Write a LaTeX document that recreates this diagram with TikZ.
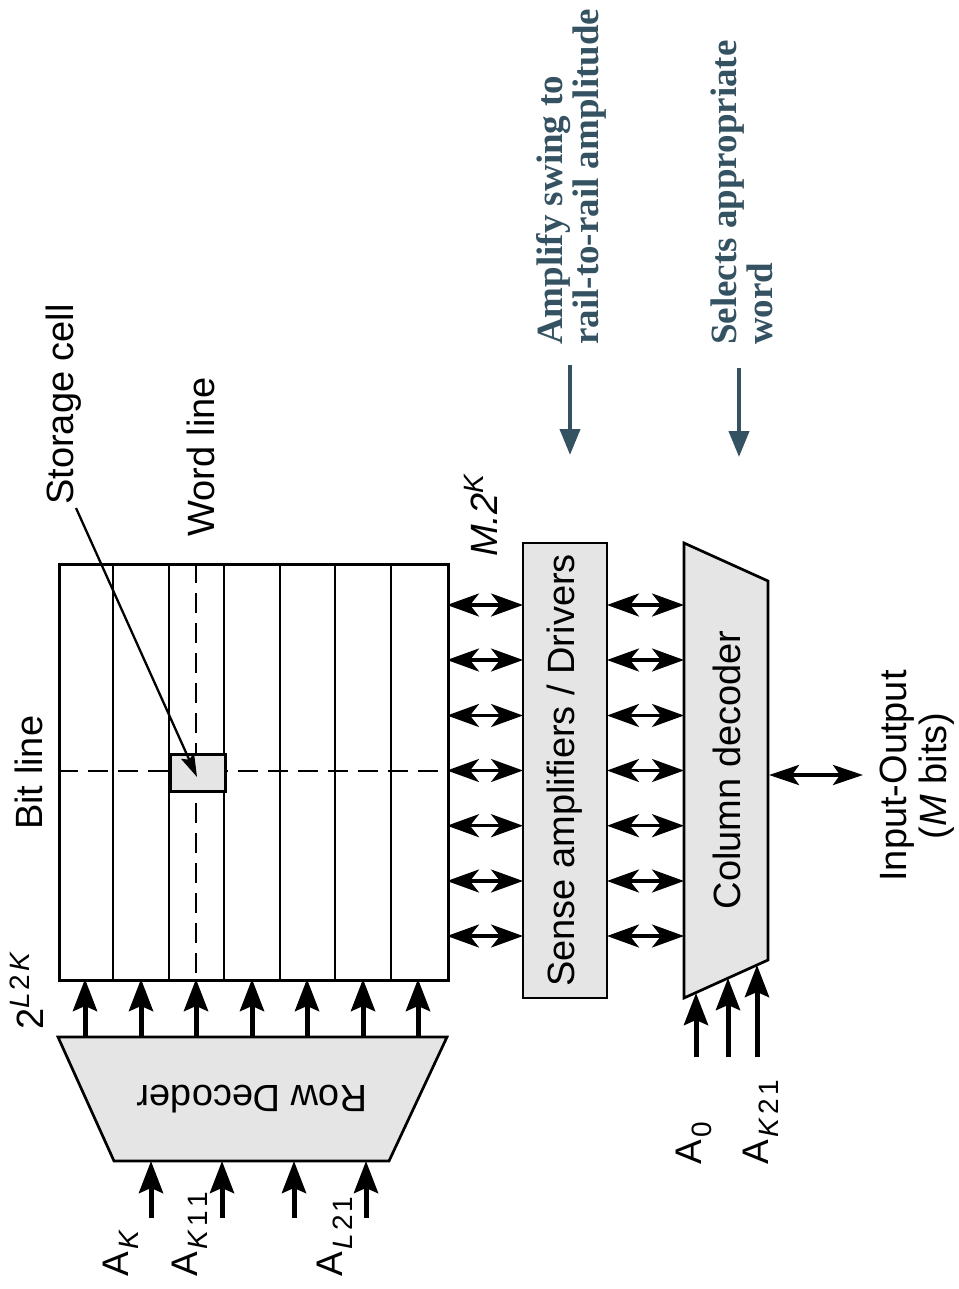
\documentclass[tikz,border=0pt]{standalone}
\usepackage{fontspec}
\setmainfont{Liberation Sans}
\newfontfamily\annfont{Liberation Serif}
\usetikzlibrary{arrows.meta}
\definecolor{anncol}{RGB}{52,82,97}
\definecolor{boxfill}{RGB}{229,229,229}
\newcommand\mysub[1]{\raisebox{-10pt}{\fontsize{28}{28}\selectfont #1}}
\newcommand\mysup[1]{\raisebox{14pt}{\fontsize{28}{28}\selectfont #1}}
\newcommand\gp{\hspace{3pt}}
\begin{document}
\begin{tikzpicture}[x=1pt,y=-1pt,
  wire/.style={line width=2.7pt},
  boxnode/.style={draw, line width=2.7pt, fill=boxfill, inner sep=0pt},
  dbl/.style={line width=3.5pt, {Stealth[length=32pt,width=23pt,inset=9pt]}-{Stealth[length=32pt,width=23pt,inset=9pt]}},
  uparr/.style={line width=5pt, -{Stealth[length=32pt,width=24pt,inset=5pt]}},
  ioarr/.style={line width=4pt, {Stealth[length=30pt,width=20pt,inset=7pt]}-{Stealth[length=30pt,width=20pt,inset=7pt]}},
  annarr/.style={line width=4pt, draw=anncol, -{Triangle[length=26pt,width=20pt]}},
  lbl/.style={font=\fontsize{38}{40}\selectfont, inner sep=0pt},
  rlbl/.style={lbl, rotate=90, anchor=base west},
  albl/.style={rlbl, font=\fontsize{37}{37}\selectfont},
  ann/.style={font=\annfont\bfseries\fontsize{37}{36}\selectfont, text=anncol, inner sep=0pt, rotate=90, align=left, anchor=north west},
]
\useasboundingbox (0,0) rectangle (958,1289);
\fill[white] (0,0) rectangle (958,1289);

% memory array
\node[draw, line width=2.7pt, inner sep=0pt, minimum width=389pt, minimum height=416pt, anchor=north west] (grid) at (58,563) {};
\foreach \x in {113,169,224,280,335,391} \draw[wire] (\x,563) -- (\x,979);
\draw[wire, dash pattern=on 20pt off 10pt] (196,563) -- (196,979);
\draw[wire, dash pattern=on 20pt off 10pt] (58,771) -- (447,771);
\node[boxnode, minimum width=55pt, minimum height=37pt, anchor=north west] (cell) at (169,753) {};

% labels around the array
\node[rlbl] (storage) at (73,505) {Storage cell};
\coordinate (stail) at (76,508);
\coordinate (stip) at (197,777);
\draw[line width=2.3pt, -{Stealth[length=23pt,width=14pt,inset=4pt]}] (stail) -- (stip);
\node[rlbl] (wordline) at (214,537) {Word line};
\node[rlbl] (bitline) at (42,830) {Bit line};
\node[rlbl] (rows) at (43,1030) {2\mysup{\textit{L}\gp2\gp\textit{K}}};
\node[rlbl] (cols) at (497,557) {\textit{M.2}\mysup{\textit{K}}};

% sense amplifiers
\node[boxnode, rotate=90, minimum width=455pt, minimum height=84pt, font=\fontsize{38}{40}\selectfont] (sense) at (565,770.5) {Sense amplifiers / Drivers};

% column decoder
\draw[wire, fill=boxfill] (684,543) -- (768,581) -- (768,960) -- (684,998) -- cycle;
\node[lbl, rotate=90] (coldec) at (727,770) {Column decoder};

% row decoder
\draw[wire, fill=boxfill] (58,1037) -- (447,1037) -- (389,1161) -- (114,1161) -- cycle;
\node[lbl, rotate=180] (rowdec) at (252,1099) {Row Decoder};

% double arrows
\foreach \i/\y in {1/605,2/660,3/715.5,4/770.5,5/825.7,6/881,7/936}{
  \coordinate (ga\i) at (447,\y);
  \coordinate (sa\i) at (523,\y);
  \coordinate (sb\i) at (607,\y);
  \coordinate (cd\i) at (684,\y);
  \draw[dbl] (ga\i) -- (sa\i);
  \draw[dbl] (sb\i) -- (cd\i);
}

% word line drivers
\foreach \i/\x in {1/85,2/141,3/196,4/252,5/307,6/363,7/418}{
  \coordinate (rd\i) at (\x,1037);
  \coordinate (gb\i) at (\x,979);
  \draw[uparr] (rd\i) -- (gb\i);
}

% row address inputs
\foreach \i/\x in {1/151,2/222,3/294,4/366}{
  \coordinate (ri\i) at (\x,1218);
  \coordinate (rt\i) at (\x,1161);
  \draw[uparr] (ri\i) -- (rt\i);
}
\node[albl] (ak) at (128,1277) {A\gp\mysub{\textit{K}}};
\node[albl] (ak1) at (197,1277) {A\gp\mysub{\textit{K}\gp1\gp1}};
\node[albl] (al1) at (342,1277) {A\gp\mysub{\textit{L}\gp2\gp1}};

% column address inputs
\foreach \i/\x/\t in {1/696/993,2/728/978,3/757/965}{
  \coordinate (ci\i) at (\x,1057);
  \coordinate (ct\i) at (\x,\t);
  \draw[uparr] (ci\i) -- (ct\i);
}
\node[albl] (a0) at (701,1165) {A\gp\mysub{0}};
\node[albl] (ak2) at (768,1165) {A\gp\mysub{\textit{K}\gp2\gp1}};

% input-output
\coordinate (cdout) at (769,775);
\node[lbl, rotate=90, align=center] (io) at (917,776) {Input-Output\\(\textit{M} bits)};
\coordinate (ioend) at (863,775);
\draw[ioarr] (cdout) -- (ioend);

% annotations
\node[ann] (amp) at (536,345) {Amplify swing to\\rail-to-rail amplitude};
\node[ann] (sel) at (711,345) {Selects appropriate\\word};
\coordinate (ampa) at (570,365);
\coordinate (ampb) at (570,455);
\coordinate (sela) at (739,368);
\coordinate (selb) at (739,457);
\draw[annarr] (ampa) -- (ampb);
\draw[annarr] (sela) -- (selb);
\end{tikzpicture}
\end{document}
